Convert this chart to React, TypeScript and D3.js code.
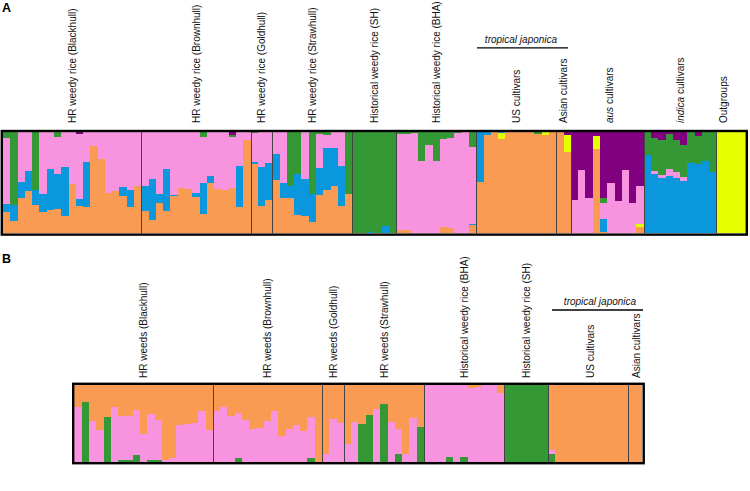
import React from "react";
import * as d3 from "d3";

// ---------- cluster keys & colours ----------
// Panel A stacking order (bottom -> top)
const clustersA = ["orange", "yellow", "blue", "pink", "green", "purple"];
// Panel B stacking order (bottom -> top)
const clustersB = ["green", "pink", "orange"];
const palette: Record<string, string> = {
  orange: "#F99B52",
  yellow: "#E6FF00",
  blue: "#0A97DE",
  pink: "#F894DF",
  green: "#349934",
  purple: "#800080",
};

// ---------- Panel A data: [orange, yellow, blue, pink, green, purple] ----------
const blackhullA = [
  [0.21, 0, 0.08, 0.65, 0.06, 0], [0.12, 0, 0.16, 0, 0.72, 0], [0.35, 0, 0.16, 0.49, 0, 0],
  [0.42, 0, 0.2, 0.38, 0, 0], [0.28, 0, 0.15, 0, 0.57, 0], [0.21, 0, 0.18, 0.61, 0, 0],
  [0.23, 0, 0.41, 0.36, 0, 0], [0.24, 0, 0.35, 0.36, 0.05, 0], [0.17, 0, 0.49, 0.34, 0, 0],
  [0.49, 0, 0, 0.51, 0, 0], [0.27, 0, 0.07, 0.64, 0, 0.02], [0.26, 0, 0.45, 0.29, 0, 0],
  [0.865, 0, 0, 0.135, 0, 0], [0.74, 0, 0, 0.26, 0, 0], [0.4, 0, 0, 0.6, 0, 0],
  [0.42, 0, 0, 0.58, 0, 0], [0.37, 0, 0.09, 0.54, 0, 0], [0.26, 0, 0.17, 0.57, 0, 0],
  [0.47, 0, 0, 0.53, 0, 0],
];
const brownhullA = [
  [0.22, 0, 0.25, 0.53, 0, 0], [0.13, 0, 0.41, 0.46, 0, 0], [0.3, 0, 0.09, 0.61, 0, 0],
  [0.22, 0, 0.42, 0.36, 0, 0], [0.37, 0, 0.01, 0.62, 0, 0], [0.45, 0, 0, 0.55, 0, 0],
  [0.44, 0, 0, 0.56, 0, 0], [0.36, 0, 0.04, 0.6, 0, 0], [0.19, 0, 0.31, 0.45, 0.05, 0],
  [0.5, 0, 0.07, 0.43, 0, 0], [0.44, 0, 0, 0.56, 0, 0], [0.43, 0, 0, 0.57, 0, 0],
  [0.45, 0, 0, 0.5, 0.02, 0.03], [0.26, 0, 0.41, 0.33, 0, 0], [0.92, 0, 0, 0.08, 0, 0],
];
const goldhullA = [
  [0.69, 0, 0.02, 0.28, 0.01, 0], [0.27, 0, 0.39, 0.34, 0, 0], [0.33, 0, 0.37, 0.3, 0, 0],
];
const strawhullA = [
  [0.53, 0, 0.25, 0.22, 0, 0], [0.35, 0, 0.15, 0.5, 0, 0], [0.35, 0, 0.12, 0, 0.53, 0],
  [0.18, 0, 0.41, 0, 0.41, 0], [0.17, 0, 0.37, 0.46, 0, 0], [0.11, 0, 0.28, 0, 0.61, 0],
  [0.38, 0, 0.27, 0.33, 0.02, 0], [0.43, 0, 0.41, 0.13, 0.03, 0], [0.47, 0, 0.37, 0.16, 0, 0],
  [0.27, 0, 0.4, 0.33, 0, 0], [0.39, 0, 0, 0, 0.61, 0],
];
const shA = [
  [0, 0, 0, 0, 1, 0], [0, 0, 0, 0, 1, 0], [0, 0, 0.01, 0, 0.99, 0],
  [0, 0, 0, 0, 1, 0], [0, 0, 0.07, 0, 0.93, 0], [0, 0, 0, 0, 1, 0],
];
const bhaA = [
  [0.03, 0, 0, 0.95, 0.02, 0], [0.03, 0, 0, 0.95, 0.02, 0], [0, 0, 0, 0.99, 0.01, 0],
  [0, 0, 0, 0.72, 0.28, 0], [0, 0, 0, 0.87, 0.13, 0], [0, 0, 0, 0.72, 0.28, 0],
  [0.06, 0, 0, 0.87, 0.07, 0], [0.05, 0, 0, 0.89, 0.06, 0], [0, 0, 0, 0.99, 0.01, 0],
  [0, 0, 0, 1, 0, 0], [0.08, 0, 0.01, 0.76, 0.15, 0],
];
const usA = [
  [0.51, 0, 0.49, 0, 0, 0], [0.97, 0, 0.03, 0, 0, 0], [1, 0, 0, 0, 0, 0],
  [0.93, 0.06, 0.01, 0, 0, 0], [1, 0, 0, 0, 0, 0], [1, 0, 0, 0, 0, 0],
  [1, 0, 0, 0, 0, 0], [1, 0, 0, 0, 0, 0], [0.98, 0, 0, 0, 0.02, 0],
  [0.97, 0.03, 0, 0, 0, 0], [1, 0, 0, 0, 0, 0],
];
const asianA = [
  [1, 0, 0, 0, 0, 0], [0.805, 0.165, 0, 0, 0, 0.03],
];
const ausA = [
  [0, 0, 0, 0.33, 0, 0.67], [0, 0, 0, 0.63, 0, 0.37], [0, 0, 0, 0.35, 0, 0.65],
  [0.83, 0.13, 0, 0, 0, 0.04], [0.01, 0, 0.13, 0.165, 0.04, 0.655], [0, 0, 0, 0.5, 0, 0.5],
  [0, 0, 0, 0.32, 0, 0.68], [0, 0, 0, 0.63, 0, 0.37], [0, 0, 0, 0.3, 0, 0.7],
  [0.065, 0.025, 0, 0.38, 0, 0.53],
];
const indicaA = [
  [0, 0, 0.77, 0, 0.23, 0], [0, 0, 0.59, 0.03, 0.32, 0.06], [0, 0, 0.55, 0.03, 0.34, 0.08],
  [0, 0, 0.57, 0.07, 0.34, 0.02], [0, 0, 0.55, 0.06, 0.31, 0.08], [0, 0, 0.52, 0.04, 0.31, 0.13],
  [0, 0, 0.7, 0, 0.3, 0], [0, 0, 0.69, 0, 0.27, 0.04], [0, 0, 0.72, 0, 0.28, 0],
  [0, 0, 0.61, 0, 0.39, 0],
];
const outgroupsA = [
  [0, 1, 0, 0, 0, 0], [0, 1, 0, 0, 0, 0], [0, 1, 0, 0, 0, 0], [0, 1, 0, 0, 0, 0],
];

// ---------- Panel B data: [green, pink, orange] ----------
const blackhullB = [
  [0, 0.72, 0.28], [0.78, 0, 0.22], [0, 0.53, 0.47], [0, 0.41, 0.59], [0.59, 0, 0.41],
  [0, 0.71, 0.29], [0.02, 0.58, 0.4], [0.02, 0.58, 0.4], [0.09, 0.58, 0.33], [0, 0.37, 0.63],
  [0.02, 0.6, 0.38], [0.02, 0.53, 0.45], [0, 0.03, 0.97], [0, 0.05, 0.95], [0, 0.48, 0.52],
  [0, 0.49, 0.51], [0, 0.51, 0.49], [0, 0.66, 0.34], [0, 0.41, 0.59],
];
const brownhullB = [
  [0, 0.66, 0.34], [0, 0.71, 0.29], [0, 0.6, 0.4], [0.05, 0.58, 0.37], [0, 0.54, 0.46],
  [0, 0.43, 0.57], [0, 0.44, 0.56], [0, 0.53, 0.47], [0, 0.66, 0.34], [0, 0.34, 0.66],
  [0, 0.43, 0.57], [0, 0.48, 0.52], [0, 0.4, 0.6], [0.05, 0.53, 0.42], [0, 0, 1],
];
const goldhullB = [[0, 0.11, 0.89], [0, 0.56, 0.44], [0, 0.51, 0.49]];
const strawhullB = [
  [0, 0.24, 0.76], [0, 0.52, 0.48], [0.49, 0, 0.51], [0.61, 0, 0.39], [0, 0.69, 0.31],
  [0.75, 0, 0.25], [0, 0.52, 0.48], [0.11, 0.32, 0.57], [0, 0.1, 0.9], [0, 0.57, 0.43],
  [0.46, 0, 0.54],
];
const bhaB = [
  [0, 1, 0], [0, 1, 0], [0, 1, 0], [0.06, 0.94, 0], [0, 1, 0], [0.06, 0.94, 0],
  [0, 0.96, 0.04], [0, 0.97, 0.03], [0, 1, 0], [0, 1, 0], [0, 0.9, 0.1],
];
const shB = [[1, 0, 0], [1, 0, 0], [1, 0, 0], [1, 0, 0], [1, 0, 0], [1, 0, 0]];
const usB = [
  [0.1, 0.05, 0.85], [0, 0, 1], [0, 0, 1], [0, 0, 1], [0, 0, 1], [0, 0, 1],
  [0, 0, 1], [0, 0, 1], [0, 0, 1], [0, 0, 1], [0, 0, 1],
];
const asianB = [[0, 0, 1], [0, 0, 1]];

// ---------- group labels ----------
type Label = { parts: { t: string; italic?: boolean }[] };
const groupsA: { label: Label; bars: number[][] }[] = [
  { label: { parts: [{ t: "HR weedy rice (Blackhull)" }] }, bars: blackhullA },
  { label: { parts: [{ t: "HR weedy rice (Brownhull)" }] }, bars: brownhullA },
  { label: { parts: [{ t: "HR weedy rice (Goldhull)" }] }, bars: goldhullA },
  { label: { parts: [{ t: "HR weedy rice (Strawhull)" }] }, bars: strawhullA },
  { label: { parts: [{ t: "Historical weedy rice (SH)" }] }, bars: shA },
  { label: { parts: [{ t: "Historical weedy rice (BHA)" }] }, bars: bhaA },
  { label: { parts: [{ t: "US cultivars" }] }, bars: usA },
  { label: { parts: [{ t: "Asian cultivars" }] }, bars: asianA },
  { label: { parts: [{ t: "aus", italic: true }, { t: " cultivars" }] }, bars: ausA },
  { label: { parts: [{ t: "indica", italic: true }, { t: " cultivars" }] }, bars: indicaA },
  { label: { parts: [{ t: "Outgroups" }] }, bars: outgroupsA },
];
const groupsB: { label: Label; bars: number[][] }[] = [
  { label: { parts: [{ t: "HR weeds (Blackhull)" }] }, bars: blackhullB },
  { label: { parts: [{ t: "HR weeds (Brownhull)" }] }, bars: brownhullB },
  { label: { parts: [{ t: "HR weeds (Goldhull)" }] }, bars: goldhullB },
  { label: { parts: [{ t: "HR weeds (Strawhull)" }] }, bars: strawhullB },
  { label: { parts: [{ t: "Historical weedy rice (BHA)" }] }, bars: bhaB },
  { label: { parts: [{ t: "Historical weedy rice (SH)" }] }, bars: shB },
  { label: { parts: [{ t: "US cultivars" }] }, bars: usB },
  { label: { parts: [{ t: "Asian cultivars" }] }, bars: asianB },
];

const FONT = "'Liberation Sans', Arial, Helvetica, sans-serif";

type PanelProps = {
  groups: { label: Label; bars: number[][] }[];
  keys: string[];
  x0: number;
  x1: number;
  y0: number;
  y1: number;
  labelBottom: number;
  labelShift?: Record<number, number>;
  tropical: { text: { x: number; y: number }; line: { x0: number; x1: number; y: number } };
  letter: string;
  letterY: number;
};

function Panel(p: PanelProps) {
  const all = p.groups.flatMap((g) => g.bars.map((b) => {
    const s = d3.sum(b) || 1;
    return b.map((v) => v / s);
  }));
  const x = d3.scaleBand<number>().domain(d3.range(all.length)).range([p.x0, p.x1]).padding(0);
  const y = d3.scaleLinear().domain([0, 1]).range([p.y1, p.y0]);
  const stack = d3.stack<number[], number>().keys(d3.range(p.keys.length)).value((d, k) => d[k]);
  const series = stack(all);

  const bounds: number[] = [];
  let idx = 0;
  const centers: number[] = [];
  p.groups.forEach((g) => {
    const start = x(idx)!;
    idx += g.bars.length;
    const end = idx < all.length ? x(idx)! : p.x1;
    centers.push((start + end) / 2);
    if (idx < all.length) bounds.push(end);
  });

  const bw = x.bandwidth();
  const px = (v: number) => Math.round(v);

  return (
    <g>
      <text x={2} y={p.letterY} fontFamily={FONT} fontWeight="bold" fontSize={12.5} fill="#000">
        {p.letter}
      </text>
      <g shapeRendering="crispEdges">
        {series.map((s, k) => (
          <g key={k} fill={palette[p.keys[k]]}>
            {s.map((d, i) => {
              const top = px(y(d[1]));
              const bot = px(y(d[0]));
              if (bot - top <= 0) return null;
              const xl = px(x(i)!);
              const xr = px(x(i)! + bw);
              return <rect key={i} x={xl} width={xr - xl} y={top} height={bot - top} />;
            })}
          </g>
        ))}
      </g>
      {bounds.map((b, i) => (
        <line key={i} x1={px(b) + 0.5} x2={px(b) + 0.5} y1={p.y0} y2={p.y1} stroke="#444" strokeWidth={1} />
      ))}
      <rect
        x={p.x0 - 1.2}
        y={p.y0 - 1.2}
        width={p.x1 - p.x0 + 2.4}
        height={p.y1 - p.y0 + 2.4}
        fill="none"
        stroke="#000"
        strokeWidth={2.4}
      />
      {p.groups.map((g, i) => {
        const cx = centers[i] + (p.labelShift?.[i] ?? 0);
        return (
          <text
            key={i}
            transform={`translate(${cx + 3.6},${p.labelBottom}) rotate(-90)`}
            fontFamily={FONT}
            fontSize={10}
            fill="#111"
          >
            {g.label.parts.map((pt, j) => (
              <tspan key={j} fontStyle={pt.italic ? "italic" : "normal"}>
                {pt.t}
              </tspan>
            ))}
          </text>
        );
      })}
      <text
        x={p.tropical.text.x}
        y={p.tropical.text.y}
        textAnchor="middle"
        fontFamily={FONT}
        fontSize={10}
        fontStyle="italic"
        fill="#111"
      >
        tropical japonica
      </text>
      <line
        x1={p.tropical.line.x0}
        x2={p.tropical.line.x1}
        y1={p.tropical.line.y}
        y2={p.tropical.line.y}
        stroke="#000"
        strokeWidth={1.3}
      />
    </g>
  );
}

export default function App() {
  return (
    <svg width={750} height={491} style={{ display: "block", position: "absolute", left: 0, top: 0 }}>
      <rect width={750} height={491} fill="#fff" />
      <Panel
        groups={groupsA}
        keys={clustersA}
        x0={3}
        x1={745.6}
        y0={132.2}
        y1={233.4}
        labelBottom={123}
        labelShift={{ 10: -8, 8: 2 }}
        tropical={{ text: { x: 521, y: 43 }, line: { x0: 477, x1: 568, y: 47.8 } }}
        letter="A"
        letterY={12}
      />
      <Panel
        groups={groupsB}
        keys={clustersB}
        x0={74.4}
        x1={642.5}
        y0={385}
        y1={462}
        labelBottom={378}
        labelShift={{ 6: 3, 7: 1.5 }}
        tropical={{ text: { x: 600, y: 304.5 }, line: { x0: 552, x1: 643, y: 310 } }}
        letter="B"
        letterY={263}
      />
    </svg>
  );
}
